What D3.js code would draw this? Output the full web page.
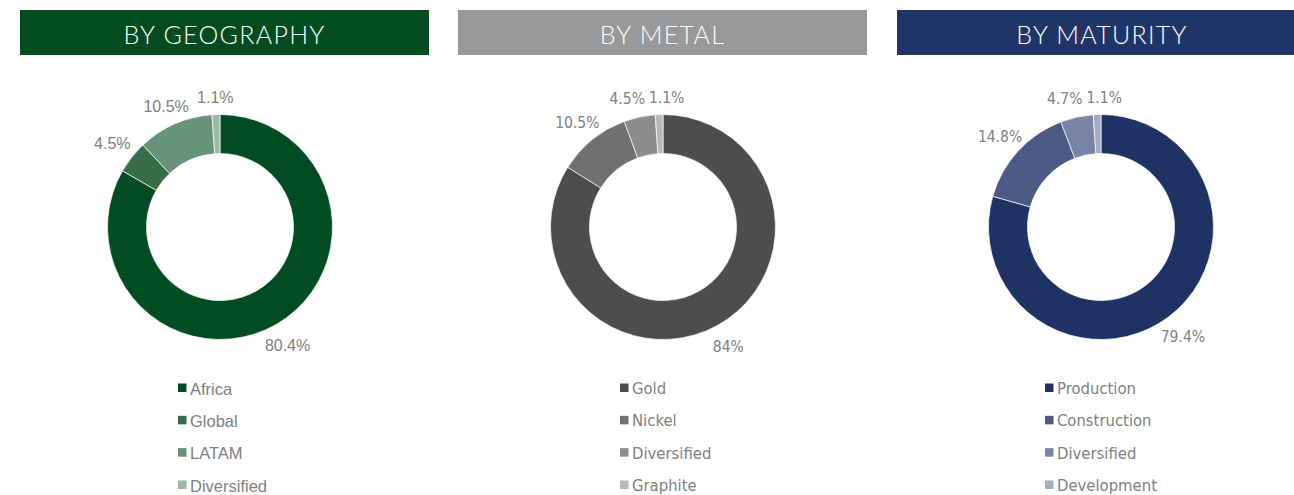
<!DOCTYPE html>
<html lang="en">
<head>
	<meta charset="UTF-8">
	<title>Portfolio breakdown</title>
	<style>
		body { margin: 0; background: #fff; }
		.hd-text {
			font-family: Lato, "Open Sans", sans-serif;
			font-weight: 300;
			font-size: 25px;
			letter-spacing: 1.3px;
			fill: #fff;
		}
		.lbl, .leg text { fill: #808080; }
		.arial { font-family: "Liberation Sans", Arial, sans-serif; }
		.tahoma { font-family: "DejaVu Sans Condensed", "DejaVu Sans", sans-serif; }
	</style>
	<script src="https://d3js.org/d3.v7.min.js"></script>
</head>
<body>
	<script type="text/javascript">

		// data
		const geoCats = ["Africa", "Global", "LATAM", "Diversified"];
		const geoVals = [80.4, 4.5, 10.5, 1.1];
		const geoColors = ["#014d21", "#376c47", "#66937a", "#9bbaa7"];

		const metalCats = ["Gold", "Nickel", "Diversified", "Graphite"];
		const metalVals = [84, 10.5, 4.5, 1.1];
		const metalColors = ["#4d4d4d", "#707070", "#8c8c8c", "#b8b8b8"];

		const matCats = ["Production", "Construction", "Diversified", "Development"];
		const matVals = [79.4, 14.8, 4.7, 1.1];
		const matColors = ["#1f3264", "#4b5a85", "#7884a3", "#a5adc2"];

		const titles = ["BY GEOGRAPHY", "BY METAL", "BY MATURITY"];
		const headColors = ["#024c20", "#999999", "#1f3567"];

		const w = 1294, h = 495;

		// layout per panel
		const panels = [
			{ cats: geoCats, vals: geoVals, colors: geoColors, x0: 20, x1: 429, cx: 220, legX: 178, font: "arial", lblSize: 16, legSize: 16.5 },
			{ cats: metalCats, vals: metalVals, colors: metalColors, x0: 458, x1: 867, cx: 663, legX: 620, font: "tahoma", lblSize: 15.5, legSize: 16.5 },
			{ cats: matCats, vals: matVals, colors: matColors, x0: 897, x1: 1294, cx: 1101, legX: 1045, font: "tahoma", lblSize: 15.5, legSize: 16.5 }
		];

		const cy = 227, rOut = 112.5, rIn = 73.5;

		const svg = d3.select("body")
			.append("svg")
			.attr("width", w)
			.attr("height", h);

		const pie = d3.pie().sort(null).value(d => d);
		const arc = d3.arc().innerRadius(rIn).outerRadius(rOut);

		panels.forEach((p, i) => {
			const g = svg.append("g");

			// header bar
			g.append("rect")
				.attr("x", p.x0).attr("y", 10)
				.attr("width", p.x1 - p.x0).attr("height", 45)
				.attr("fill", headColors[i]);
			g.append("text")
				.attr("class", "hd-text")
				.attr("x", (p.x0 + (i == 2 ? 1307 : p.x1)) / 2)
				.attr("y", 34)
				.attr("text-anchor", "middle")
				.attr("dominant-baseline", "central")
				.text(titles[i]);

			// donut
			const arcs = pie(p.vals);
			const donut = g.append("g").attr("transform", "translate(" + p.cx + "," + cy + ")");
			donut.selectAll("path")
				.data(arcs).enter()
				.append("path")
				.attr("d", arc)
				.attr("fill", (d, k) => p.colors[k])
				.attr("stroke", "#fff")
				.attr("stroke-width", 0.7);

			// labels just outside the ring, pushed apart if they collide
			const labels = donut.selectAll("text.lbl")
				.data(arcs).enter()
				.append("text")
				.attr("class", "lbl " + p.font)
				.attr("font-size", p.lblSize)
				.attr("text-anchor", "middle")
				.attr("dominant-baseline", "central")
				.text(d => d.value + "%");

			const widths = labels.nodes().map(n => n.getComputedTextLength());
			const lh = p.lblSize;
			const pos = arcs.map(d => {
				const a = (d.startAngle + d.endAngle) / 2;
				const r = rOut + 18.5 + 8 * Math.abs(Math.sin(a));
				return [r * Math.sin(a), -r * Math.cos(a) + 2];
			});
			for (let pass = 0; pass < 5; pass++) {
				for (let k = 0; k < pos.length - 1; k++) {
					const a = k, b = k + 1;
					if (Math.abs(pos[a][1] - pos[b][1]) > lh) continue;
					const left = pos[a][0] < pos[b][0] ? a : b, right = left == a ? b : a;
					const overlap = (pos[left][0] + widths[left] / 2 + 4) - (pos[right][0] - widths[right] / 2);
					if (overlap > 0) {
						pos[left][0] -= overlap / 2;
						pos[right][0] += overlap / 2;
					}
				}
			}
			labels.attr("x", (d, k) => pos[k][0]).attr("y", (d, k) => pos[k][1]);

			// legend
			const leg = g.append("g").attr("class", "leg")
				.attr("transform", "translate(" + p.legX + ",0)");
			const yLeg = d3.scalePoint().domain(p.cats).range([388, 485]);
			const row = leg.selectAll("g")
				.data(p.cats).enter()
				.append("g")
				.attr("transform", d => "translate(0," + yLeg(d) + ")");
			row.append("rect")
				.attr("x", 0).attr("y", -4.5)
				.attr("width", 8.5).attr("height", 8.5)
				.attr("fill", (d, k) => p.colors[k]);
			row.append("text")
				.attr("class", p.font)
				.attr("x", 12)
				.attr("y", 0.5)
				.attr("font-size", p.legSize)
				.attr("dominant-baseline", "central")
				.text(d => d);
		});

	</script>
</body>
</html>
